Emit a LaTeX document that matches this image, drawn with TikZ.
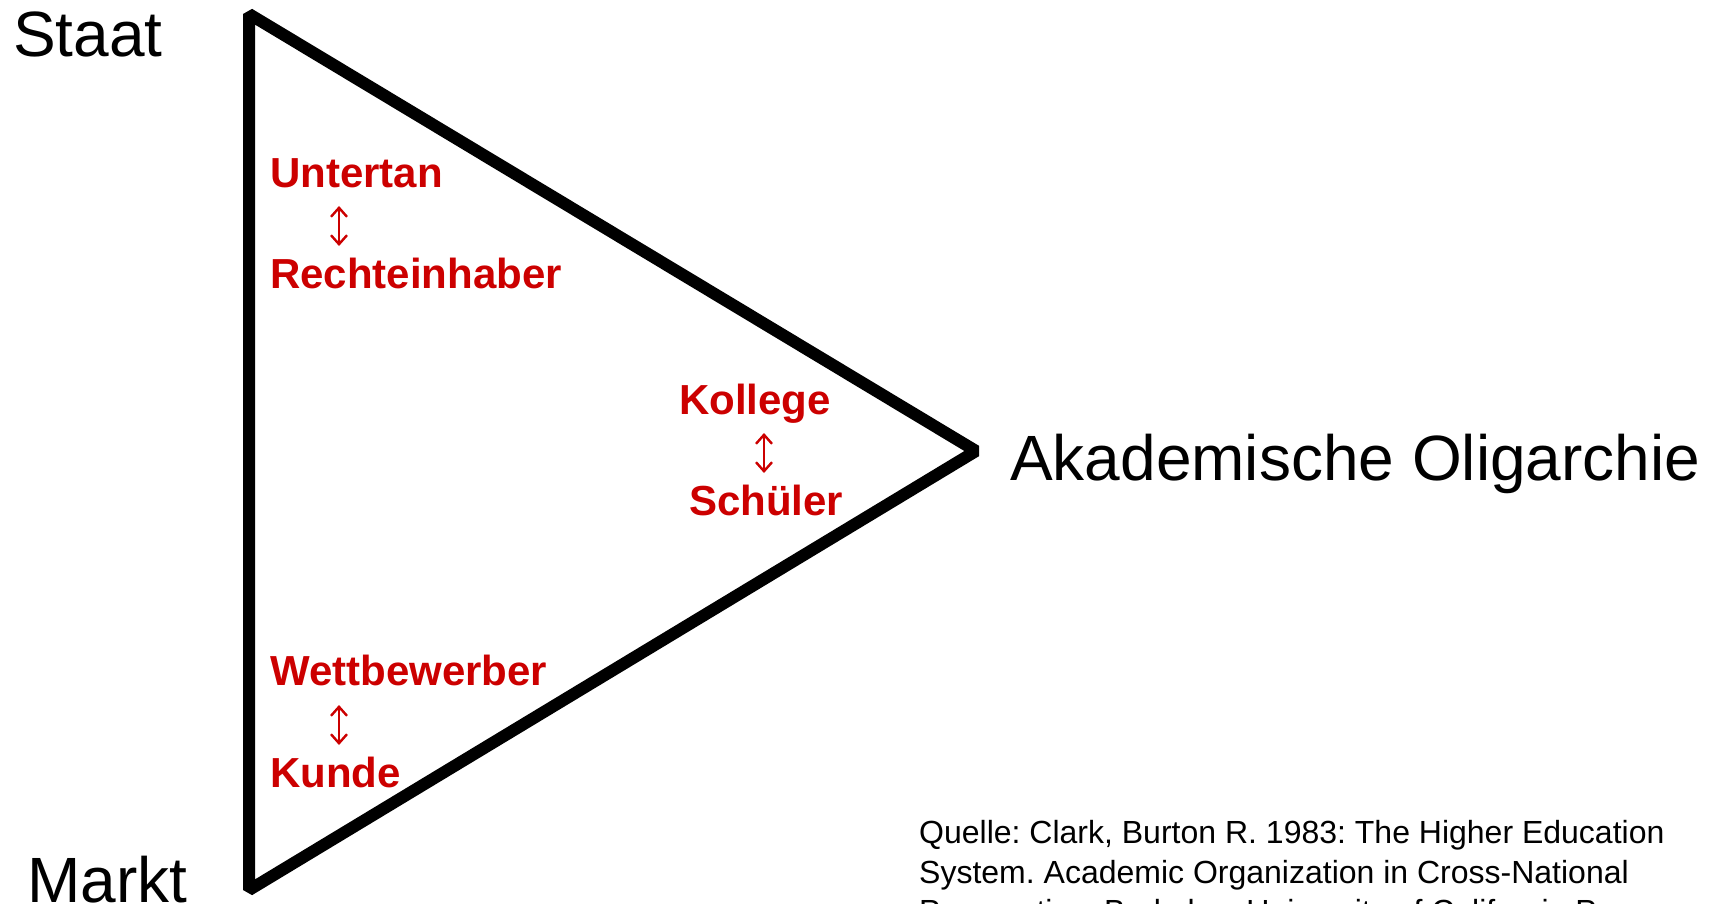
\documentclass[tikz,border=0pt]{standalone}
\usepackage{fontspec}
\setmainfont{Liberation Sans}
\usetikzlibrary{arrows.meta}
\definecolor{lblred}{RGB}{204,0,0}
\frenchspacing
\tikzset{
  big/.style={anchor=base west, inner sep=0pt, font=\fontsize{64}{77}\selectfont},
  role/.style={anchor=base west, inner sep=0pt, text=lblred, font=\fontsize{42}{50}\selectfont\bfseries},
  swap/.style={draw=lblred, line width=2.4pt, {Straight Barb[length=9pt,width=16pt,line width=2.4pt]}-{Straight Barb[length=9pt,width=16pt,line width=2.4pt]}},
  edge/.style={draw=black, line width=12pt, line join=bevel},
  src/.style={anchor=north west, inner sep=0pt, align=left, font=\fontsize{32}{39.4}\selectfont\frenchspacing}
}
\begin{document}
\begin{tikzpicture}[x=1pt,y=-1pt]
\useasboundingbox (0,0) rectangle (1716,904);
\fill[white] (0,0) rectangle (1716,904);
% triangle
\coordinate (top) at (249,14);
\coordinate (bot) at (249,890);
\coordinate (apex) at (976,451);
\draw[edge] (top) -- (bot) -- (apex) -- cycle;
% corner labels
\node[big] (staat) at (13,57) {Staat};
\node[big] (markt) at (27,902) {Markt};
\node[big] (oli) at (1010,480) {Akademische Oligarchie};
% roles
\node[role] (unt) at (270,188) {Untertan};
\node[role] (recht) at (270,288) {Rechteinhaber};
\node[role] (koll) at (679,414) {Kollege};
\node[role] (schu) at (689,515) {Schüler};
\node[role] (wett) at (270,685) {Wettbewerber};
\node[role] (kunde) at (270,787) {Kunde};
% arrows
\coordinate (a1t) at (339,206);
\coordinate (a1b) at (339,246);
\coordinate (a2t) at (764,433);
\coordinate (a2b) at (764,473);
\coordinate (a3t) at (339,705);
\coordinate (a3b) at (339,745);
\draw[swap] (a1t) -- (a1b);
\draw[swap] (a2t) -- (a2b);
\draw[swap] (a3t) -- (a3b);
% source
\node[src] (quelle) at (919,820.5) {Quelle: Clark, Burton R. 1983: The Higher Education\\System. Academic Organization in Cross-National\\Perspective. Berkeley: University of California Press.};
\end{tikzpicture}
\end{document}
